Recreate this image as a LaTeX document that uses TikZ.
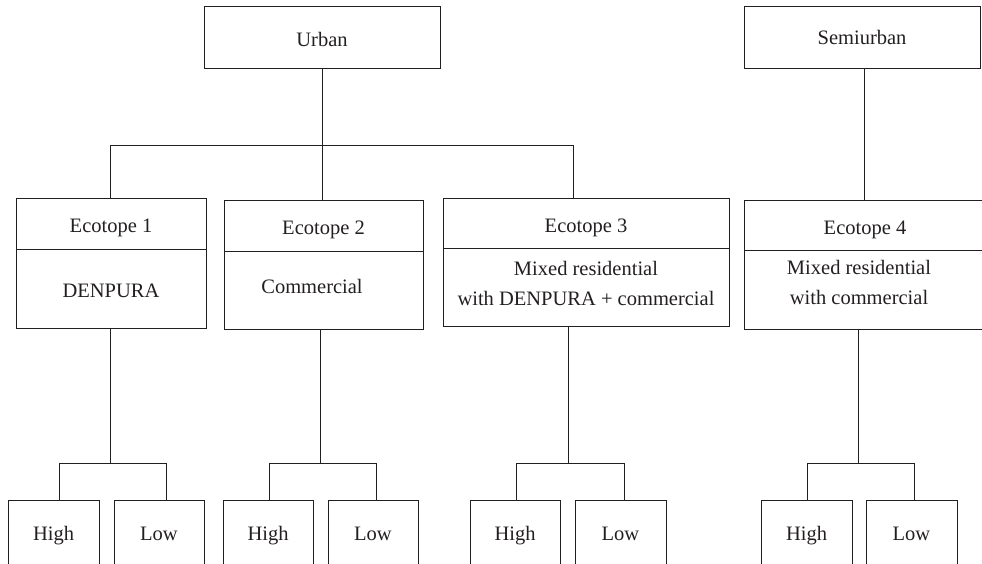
\documentclass[tikz,border=0pt]{standalone}
\usepackage{fontspec}
\setmainfont{Liberation Serif}
\begin{document}
\begin{tikzpicture}[x=1pt,y=-1pt,
  every node/.style={font=\fontsize{20.5}{30}\selectfont, text=ink},
  box/.style={draw=ink, line width=1pt, inner sep=0pt, anchor=center, align=center, text height=18pt, text depth=1pt},
  leaf/.style={box, minimum height=70, text height=16pt, text depth=6pt},
  conn/.style={draw=ink, line width=1pt}]
\definecolor{ink}{HTML}{231F20}
\useasboundingbox (0,0) rectangle (982,564);
% top level
\node[box, minimum width=236, minimum height=62] (urban) at (322,38) {Urban};
\node[box, minimum width=236, minimum height=62, text height=16pt, text depth=3pt] (semi) at (862,38) {Semiurban};
% ecotopes
\node[box, minimum width=190, minimum height=50] (e1t) at (111,224) {Ecotope 1};
\node[box, minimum width=190, minimum height=79] (e1b) at (111,288.5) {DENPURA};
\node[box, minimum width=199, minimum height=50] (e2t) at (323.5,226) {Ecotope 2};
\node[box, minimum width=199, minimum height=78] (e2b) at (323.5,290) {};
\node[text height=18pt, text depth=1pt] (e2txt) at (312,285) {Commercial};
\node[box, minimum width=286, minimum height=49] (e3t) at (586,223.5) {Ecotope 3};
\node[box, minimum width=286, minimum height=78] (e3b) at (586,287) {};
\node[align=center] (e3txt) at (586,283) {Mixed residential\\with DENPURA + commercial};
\node[box, minimum width=242, minimum height=49] (e4t) at (865,225.5) {Ecotope 4};
\node[box, minimum width=242, minimum height=79] (e4b) at (865,289.5) {};
\node[align=center] (e4txt) at (859,282) {Mixed residential\\with commercial};
% leaves
\node[leaf, minimum width=91] (h1) at (53.5,535) {High};
\node[leaf, minimum width=90] (l1) at (159,535) {Low};
\node[leaf, minimum width=90] (h2) at (268,535) {High};
\node[leaf, minimum width=90] (l2) at (373,535) {Low};
\node[leaf, minimum width=90] (h3) at (515,535) {High};
\node[leaf, minimum width=91] (l3) at (620.5,535) {Low};
\node[leaf, minimum width=91] (h4) at (806.5,535) {High};
\node[leaf, minimum width=91] (l4) at (911.5,535) {Low};
% upper connectors
\coordinate (bus) at (322,146);
\coordinate (b1) at (110,146);
\coordinate (b3) at (573,146);
\draw[conn] (urban.south) -- (bus |- e2t.north);
\draw[conn] (b1 |- e1t.north) -- (b1) -- (b3) -- (b3 |- e3t.north);
\coordinate (s4) at (864,146);
\draw[conn] (s4 |- semi.south) -- (s4 |- e4t.north);
% lower connectors
\coordinate (f1) at (110,463);
\coordinate (fh1) at (59,463);
\coordinate (fl1) at (166,463);
\draw[conn] (f1 |- e1b.south) -- (f1);
\draw[conn] (fh1 |- h1.north) -- (fh1) -- (fl1) -- (fl1 |- l1.north);
\coordinate (f2) at (320,463);
\coordinate (fh2) at (269,463);
\coordinate (fl2) at (376,463);
\draw[conn] (f2 |- e2b.south) -- (f2);
\draw[conn] (fh2 |- h2.north) -- (fh2) -- (fl2) -- (fl2 |- l2.north);
\coordinate (f3) at (568,463);
\coordinate (fh3) at (516,463);
\coordinate (fl3) at (624,463);
\draw[conn] (f3 |- e3b.south) -- (f3);
\draw[conn] (fh3 |- h3.north) -- (fh3) -- (fl3) -- (fl3 |- l3.north);
\coordinate (f4) at (858,463);
\coordinate (fh4) at (807,463);
\coordinate (fl4) at (914,463);
\draw[conn] (f4 |- e4b.south) -- (f4);
\draw[conn] (fh4 |- h4.north) -- (fh4) -- (fl4) -- (fl4 |- l4.north);
\end{tikzpicture}
\end{document}
